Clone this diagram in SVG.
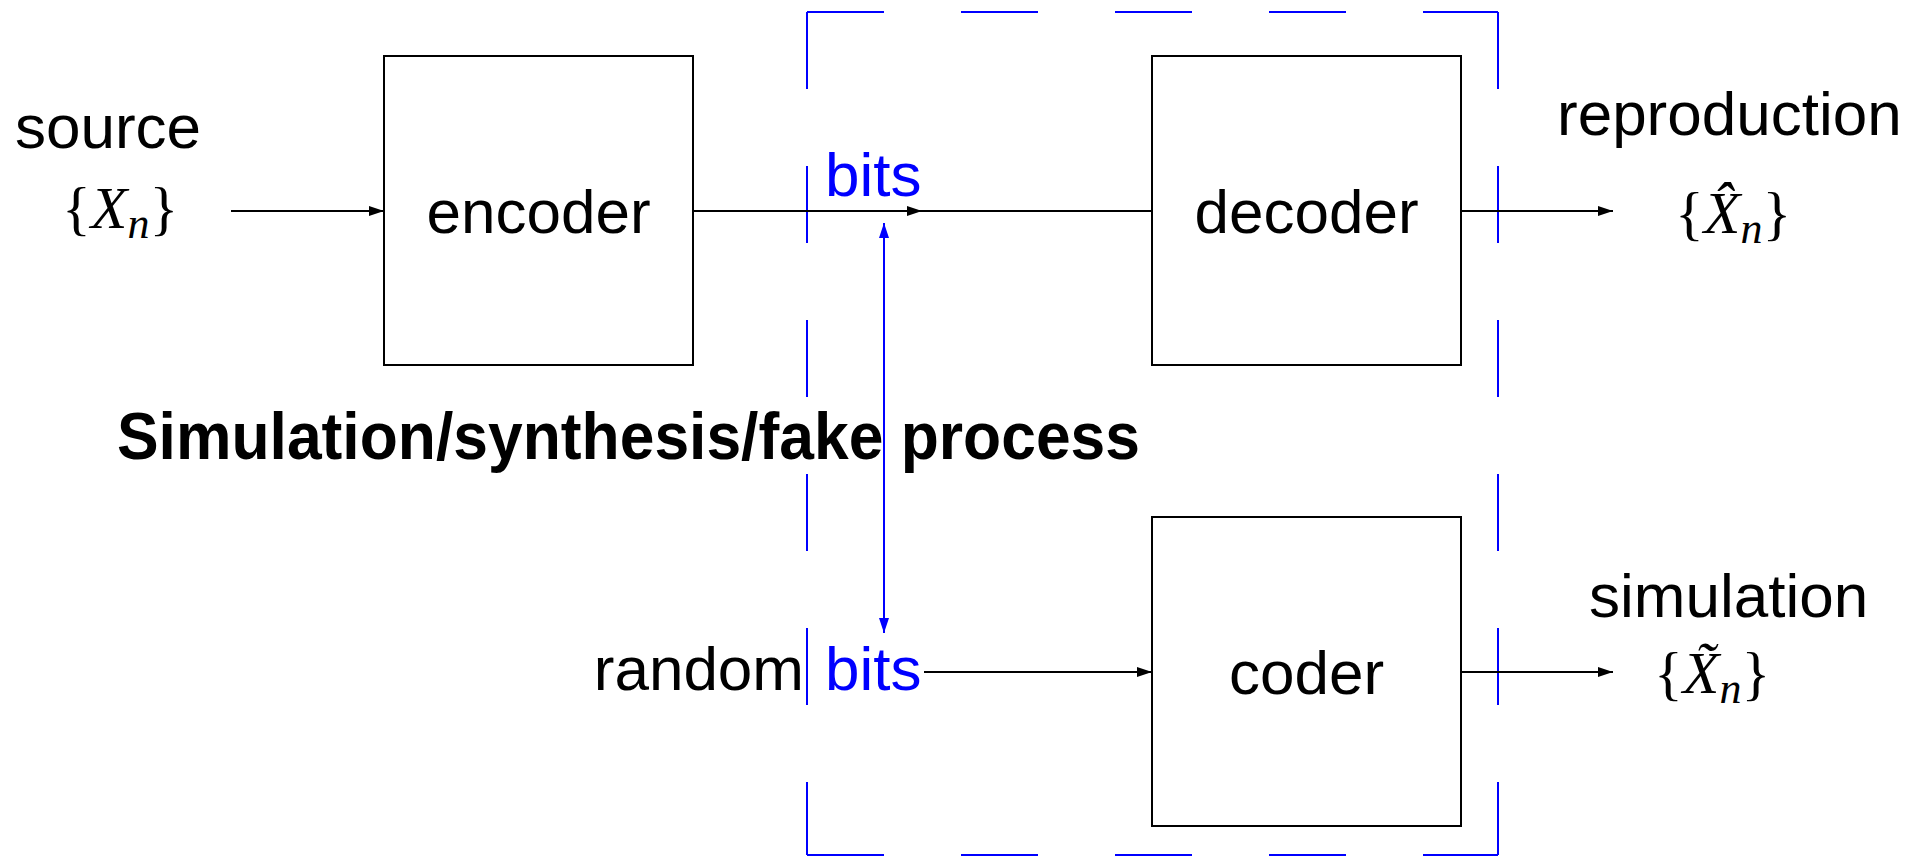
<svg xmlns="http://www.w3.org/2000/svg" width="1923" height="856" viewBox="0 0 1923 856">
  <style>
    .box { fill: none; stroke: #000; stroke-width: 2; }
    .wire { stroke: #000; stroke-width: 2; fill: none; }
    .blue { stroke: #0000ff; stroke-width: 2; fill: none; }
    .dash { stroke: #0000ff; stroke-width: 2; fill: none; stroke-dasharray: 77 77; }
    .lbl { font-family: "Liberation Sans", Arial, sans-serif; font-size: 62px; fill: #000; }
    .bits { font-family: "Liberation Sans", Arial, sans-serif; font-size: 62px; fill: #0000ff; }
    .math { font-family: "Liberation Serif", "Times New Roman", "DejaVu Serif", serif; font-size: 60px; fill: #000; }
    .it { font-style: italic; }
    .title { font-family: "Liberation Sans", Arial, sans-serif; font-size: 66px; font-weight: bold; fill: #000; }
  </style>
  <defs>
    <marker id="ah" viewBox="0 0 15 10" refX="15" refY="5" markerWidth="15" markerHeight="10" markerUnits="userSpaceOnUse" orient="auto-start-reverse">
      <path d="M0,0 L15,5 L0,10 z" fill="#000"/>
    </marker>
    <marker id="ahb" viewBox="0 0 15 10" refX="15" refY="5" markerWidth="15" markerHeight="10" markerUnits="userSpaceOnUse" orient="auto-start-reverse">
      <path d="M0,0 L15,5 L0,10 z" fill="#0000ff"/>
    </marker>
  </defs>
  <rect width="1923" height="856" fill="#fff"/>

  <!-- dashed boundary around the channel side -->
  <g id="boundary">
    <line class="dash" x1="807" y1="12" x2="1498" y2="12"/>
    <line class="dash" x1="807" y1="855" x2="1498" y2="855"/>
    <line class="dash" x1="807" y1="12" x2="807" y2="855"/>
    <line class="dash" x1="1498" y1="12" x2="1498" y2="855"/>
  </g>

  <!-- connectors -->
  <g id="connectors">
    <line class="wire" x1="231" y1="211" x2="384" y2="211" marker-end="url(#ah)"/>
    <line class="wire" x1="693" y1="211" x2="922" y2="211" marker-end="url(#ah)"/>
    <line class="wire" x1="922" y1="211" x2="1152" y2="211"/>
    <line class="wire" x1="1461" y1="211" x2="1613" y2="211" marker-end="url(#ah)"/>
    <line class="wire" x1="924" y1="672" x2="1152" y2="672" marker-end="url(#ah)"/>
    <line class="wire" x1="1461" y1="672" x2="1613" y2="672" marker-end="url(#ah)"/>
    <line class="blue" x1="884" y1="223" x2="884" y2="633" marker-start="url(#ahb)" marker-end="url(#ahb)"/>
  </g>

  <g id="encoder">
    <rect class="box" x="384" y="56" width="309" height="309"/>
    <text class="lbl" x="538.5" y="233" text-anchor="middle">encoder</text>
  </g>
  <g id="decoder">
    <rect class="box" x="1152" y="56" width="309" height="309"/>
    <text class="lbl" x="1306.5" y="233" text-anchor="middle">decoder</text>
  </g>
  <g id="coder">
    <rect class="box" x="1152" y="517" width="309" height="309"/>
    <text class="lbl" x="1306.5" y="694" text-anchor="middle">coder</text>
  </g>

  <g id="source">
    <text class="lbl" x="15" y="148">source</text>
    <text class="math" x="62" y="228">{<tspan class="it">X</tspan><tspan class="it" font-size="44" dy="10">n</tspan><tspan dy="-10">}</tspan></text>
  </g>

  <g id="reproduction">
    <text class="lbl" x="1557" y="135">reproduction</text>
    <text class="math" x="1675" y="233">{<tspan class="it">X̂</tspan><tspan class="it" font-size="44" dy="10">n</tspan><tspan dy="-10">}</tspan></text>
  </g>

  <g id="simulation">
    <text class="lbl" x="1589" y="617">simulation</text>
    <text class="math" x="1654" y="693">{<tspan class="it">X̃</tspan><tspan class="it" font-size="44" dy="10">n</tspan><tspan dy="-10">}</tspan></text>
  </g>

  <g id="bits-labels">
    <text class="bits" x="825" y="196">bits</text>
    <text class="lbl" x="804" y="690" text-anchor="end">random</text>
    <text class="bits" x="825" y="690">bits</text>
  </g>

  <text class="title" x="117" y="459" textLength="1023" lengthAdjust="spacingAndGlyphs">Simulation/synthesis/fake process</text>
</svg>
